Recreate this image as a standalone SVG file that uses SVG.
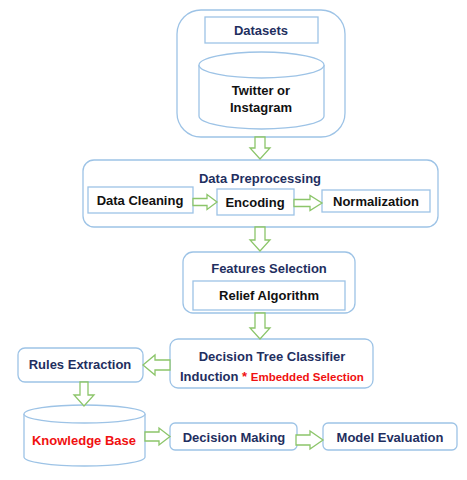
<svg xmlns="http://www.w3.org/2000/svg" width="467" height="480" viewBox="0 0 467 480">
<style>
.box{fill:#fff;stroke:#9dc3e6;stroke-width:1.3}
.arr{fill:#fff;stroke:#8cc56a;stroke-width:1.3;stroke-linejoin:miter}
text{font-family:"Liberation Sans",Arial,sans-serif;font-weight:bold;font-size:13px;text-anchor:middle}
.t{fill:#1f2f5f}
.k{fill:#111}
.r{fill:#f01010}
</style>
<rect width="467" height="480" fill="#fff"/>
<g id="datasets">
<rect class="box" x="177" y="10" width="168" height="127" rx="24"/>
<rect class="box" x="205" y="17" width="113" height="26"/>
<text class="t" x="261" y="35">Datasets</text>
<path class="box" d="M199,65 L199,116 A62.5,13 0 0 0 324,116 L324,65"/>
<ellipse class="box" cx="261.5" cy="65" rx="62.5" ry="13"/>
<text class="k" x="261" y="95" font-size="12">Twitter or</text>
<text class="k" x="261" y="112" font-size="12">Instagram</text>
</g>
<g id="preprocessing">
<rect class="box" x="83" y="160" width="355" height="67" rx="11"/>
<text class="t" x="260" y="183">Data Preprocessing</text>
</g>
<g id="cleaning">
<rect class="box" x="88" y="187" width="105" height="26"/>
<text class="k" x="140" y="205">Data Cleaning</text>
</g>
<g id="encoding">
<rect class="box" x="217" y="189" width="77" height="26"/>
<text class="k" x="255" y="207">Encoding</text>
</g>
<g id="normalization">
<rect class="box" x="322" y="190" width="108" height="22"/>
<text class="k" x="376" y="206">Normalization</text>
</g>
<g id="features">
<rect class="box" x="183" y="252" width="172" height="61" rx="10"/>
<text class="t" x="269" y="273">Features Selection</text>
<rect class="box" x="193" y="281" width="152" height="29"/>
<text class="k" x="269" y="300">Relief Algorithm</text>
</g>
<g id="decision-tree">
<rect class="box" x="170" y="339" width="203" height="49" rx="8"/>
<text class="t" x="272" y="361">Decision Tree Classifier</text>
<text x="180" y="381" style="text-anchor:start"><tspan class="t">Induction </tspan><tspan class="r">* </tspan><tspan class="r" font-size="11.5">Embedded Selection</tspan></text>
</g>
<g id="rules">
<rect class="box" x="18" y="348" width="125" height="34" rx="7"/>
<text class="t" x="80" y="369">Rules Extraction</text>
</g>
<g id="knowledge">
<path class="box" d="M24,414 L24,457 A60.5,9 0 0 0 145,457 L145,414"/>
<ellipse class="box" cx="84.5" cy="414" rx="60.5" ry="9"/>
<text class="r" x="84" y="445">Knowledge Base</text>
</g>
<g id="decision-making">
<rect class="box" x="170" y="423" width="127" height="27" rx="5"/>
<text class="t" x="234" y="442">Decision Making</text>
</g>
<g id="model-evaluation">
<rect class="box" x="323" y="423" width="134" height="27" rx="5"/>
<text class="t" x="390" y="442">Model Evaluation</text>
</g>
<g id="connectors">
<polygon class="arr" points="255,137 265,137 265,148 270,148 260,159 250,148 255,148"/>
<polygon class="arr" points="255,227 265,227 265,240 270,240 260,251 250,240 255,240"/>
<polygon class="arr" points="255,313 265,313 265,328 270,328 260,339 250,328 255,328"/>
<polygon class="arr" points="80,382 88,382 88,395 94,395 84,406 74,395 80,395"/>
<polygon class="arr" points="193,198.5 207,198.5 207,194.5 217,202 207,209.5 207,205.5 193,205.5"/>
<polygon class="arr" points="294,199.5 310,199.5 310,195.5 322,203 310,210.5 310,206.5 294,206.5"/>
<polygon class="arr" points="170,360 155,360 155,355 143,365 155,375 155,370 170,370"/>
<polygon class="arr" points="145,432 159,432 159,428 170,436.5 159,445 159,441 145,441"/>
<polygon class="arr" points="296,435 310,435 310,431 323,440 310,449 310,445 296,445"/>
</g>
</svg>
